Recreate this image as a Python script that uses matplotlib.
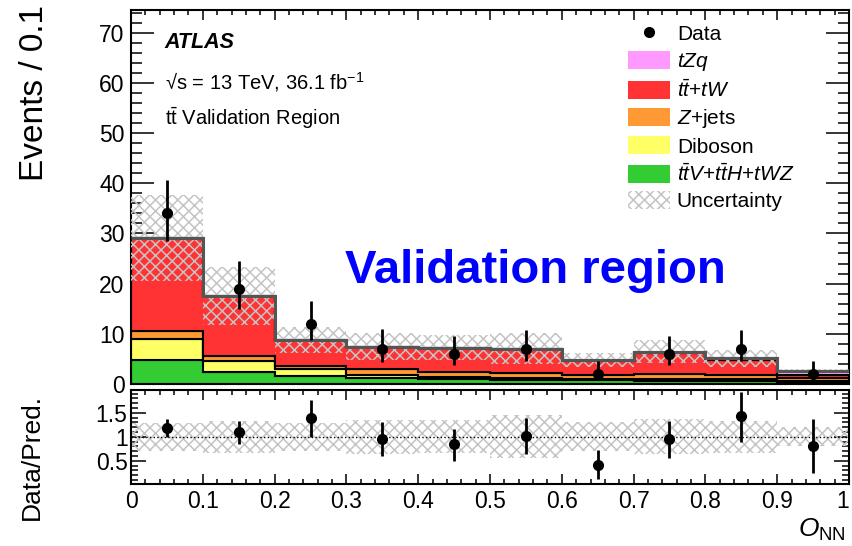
import numpy
from matplotlib import pyplot
from matplotlib.lines import Line2D
from matplotlib.patches import Patch
from matplotlib.ticker import MultipleLocator, FixedLocator, FixedFormatter

pyplot.rcParams['font.family'] = ['Liberation Sans', 'DejaVu Sans']
pyplot.rcParams['mathtext.fontset'] = 'custom'
pyplot.rcParams['mathtext.rm'] = 'Liberation Sans'
pyplot.rcParams['mathtext.it'] = 'Liberation Sans:italic'
pyplot.rcParams['mathtext.bf'] = 'Liberation Sans:bold'
pyplot.rcParams['hatch.linewidth'] = 1.1

# O_NN binning
bin_edges = [0.0, 0.1, 0.2, 0.3, 0.4, 0.5, 0.6, 0.7, 0.8, 0.9, 1.0]
bin_centers = [0.05, 0.15, 0.25, 0.35, 0.45, 0.55, 0.65, 0.75, 0.85, 0.95]
tick_labels = ['0', '0.1', '0.2', '0.3', '0.4', '0.5', '0.6', '0.7', '0.8',
               '0.9', '1']

# expected events per bin (stack order, bottom to top)
ttv = [4.7, 2.3, 1.5, 1.25, 0.9, 0.8, 0.7, 0.5, 0.5, 0.45]
diboson = [4.2, 2.2, 1.4, 0.45, 0.5, 0.4, 0.3, 0.5, 0.4, 0.15]
zjets = [1.7, 1.0, 0.7, 1.2, 1.05, 0.9, 0.8, 1.0, 0.9, 0.5]
ttbar = [18.4, 12.0, 5.1, 4.45, 4.7, 4.8, 2.85, 4.25, 3.0, 0.65]
tzq = [0.1, 0.1, 0.1, 0.1, 0.1, 0.1, 0.15, 0.2, 0.3, 0.75]
# total uncertainty (absolute)
uncertainty = [8.6, 5.8, 2.6, 2.65, 2.5, 3.1, 1.45, 2.35, 1.7, 0.5]

# data with asymmetric errors
data = [34, 19, 12, 7, 6, 7, 2, 6, 7, 2]
data_hi = [40.7, 24.5, 16.6, 10.9, 9.65, 10.8, 4.65, 9.65, 10.8, 4.65]
data_lo = [28.4, 14.9, 8.8, 4.45, 3.8, 4.6, 0.7, 3.8, 4.6, 0.7]

# data / prediction
ratio = [1.175, 1.09, 1.38, 0.95, 0.85, 1.02, 0.42, 0.95, 1.43, 0.81]
ratio_hi = [1.36, 1.32, 1.76, 1.31, 1.17, 1.40, 0.72, 1.33, 1.94, 1.36]
ratio_lo = [0.99, 0.85, 0.99, 0.60, 0.50, 0.64, 0.12, 0.56, 0.88, 0.24]

fig = pyplot.figure(figsize=(8.52, 5.46), dpi=100)
ax = fig.add_axes([131/852, 1-384/546, 718/852, 374/546])
rax = fig.add_axes([131/852, 1-484/546, 718/852, 94/546])

edges = numpy.array(bin_edges)
stack = [(ttv, '#33cc33'), (diboson, '#ffff66'), (zjets, '#ff9933'),
         (ttbar, '#ff3333'), (tzq, '#ff99ff')]
bottom = numpy.zeros(len(bin_centers))
for values, color in stack:
  top = bottom + numpy.array(values)
  ax.stairs(top, edges, baseline=bottom, fill=True, facecolor=color,
            edgecolor='black', linewidth=1.5, zorder=2)
  bottom = top
total = bottom
unc = numpy.array(uncertainty)

ax.stairs(total+unc, edges, baseline=total-unc, fill=True, facecolor='none',
          hatch='xxx', edgecolor='#c4c4c4', linewidth=0, zorder=3)
ax.stairs(total, edges, baseline=None, color='#555555', linewidth=2.2,
          zorder=4)

data = numpy.array(data, dtype=float)
ax.errorbar(bin_centers, data,
            yerr=[data-numpy.array(data_lo), numpy.array(data_hi)-data],
            fmt='o', color='black', markersize=7, elinewidth=2, capsize=0,
            zorder=6)

ax.set_xlim(0.0, 1.0)
ax.set_ylim(0.0, 74.5)
ax.yaxis.set_major_locator(MultipleLocator(10))
ax.yaxis.set_minor_locator(MultipleLocator(2))
ax.xaxis.set_major_locator(MultipleLocator(0.1))
ax.xaxis.set_minor_locator(MultipleLocator(0.02))
ax.tick_params(which='both', direction='in', top=True, right=True,
               labelbottom=False, labelsize=16.5, width=1.1)
ax.tick_params(axis='y', which='major', length=16.5, pad=4.5)
ax.tick_params(axis='y', which='minor', length=8)
ax.tick_params(axis='x', which='major', length=7)
ax.tick_params(axis='x', which='minor', length=3.5)
for spine in ax.spines.values():
  spine.set_linewidth(1.5)

ax.text(0.047, 0.912, 'ATLAS', transform=ax.transAxes, fontsize=15.5,
        fontweight='bold', fontstyle='italic', va='center')
ax.text(0.047, 0.807, '\u221As = 13 TeV, 36.1 fb$^{-1}$', transform=ax.transAxes,
        fontsize=14.5, va='center')
ax.text(0.047, 0.711, r'$\mathrm{t\bar{t}}$ Validation Region',
        transform=ax.transAxes, fontsize=14.5, va='center')
ax.text(0.5627, 0.27, 'Validation region', transform=ax.transAxes,
        fontsize=34, fontweight='bold', color='#0000ff', ha='center',
        va='baseline')

handles = [
  Line2D([], [], marker='o', color='black', linestyle='none', markersize=7),
  Patch(facecolor='#ff99ff', edgecolor='none'),
  Patch(facecolor='#ff3333', edgecolor='none'),
  Patch(facecolor='#ff9933', edgecolor='none'),
  Patch(facecolor='#ffff66', edgecolor='none'),
  Patch(facecolor='#33cc33', edgecolor='none'),
  Patch(facecolor='none', edgecolor='#c4c4c4', hatch='xxx', linewidth=0),
]
labels = ['Data', '$tZq$', r'$t\bar{t}$+$tW$', '$Z$+jets', 'Diboson',
          r'$t\bar{t}V$+$t\bar{t}H$+$tWZ$', 'Uncertainty']
ax.legend(handles, labels, loc='upper left', bbox_to_anchor=(0.692, 0.962),
          frameon=False, fontsize=15, borderpad=0, borderaxespad=0,
          handlelength=2.0, handleheight=0.95, handletextpad=0.35,
          labelspacing=0.3)

# ratio panel
rel = unc / total
rax.stairs(1+rel, edges, baseline=1-rel, fill=True, facecolor='none',
           hatch='xxx', edgecolor='#c4c4c4', linewidth=0, zorder=2)
rax.axhline(1.0, color='black', linestyle=':', linewidth=1, zorder=3)
ratio = numpy.array(ratio)
rax.errorbar(bin_centers, ratio,
             yerr=[ratio-numpy.array(ratio_lo), numpy.array(ratio_hi)-ratio],
             fmt='o', color='black', markersize=7, elinewidth=2, capsize=0,
             zorder=6)
rax.set_xlim(0.0, 1.0)
rax.set_ylim(0.015, 1.973)
rax.yaxis.set_major_locator(FixedLocator([0.5, 1.0, 1.5]))
rax.yaxis.set_major_formatter(FixedFormatter(['0.5', '1', '1.5']))
rax.yaxis.set_minor_locator(MultipleLocator(0.1))
rax.xaxis.set_major_locator(FixedLocator(bin_edges))
rax.xaxis.set_major_formatter(FixedFormatter(tick_labels))
rax.xaxis.set_minor_locator(MultipleLocator(0.02))
rax.tick_params(which='both', direction='in', top=True, right=True,
                labelsize=16.5, width=1.1)
rax.tick_params(axis='y', which='major', length=11, pad=2.5)
rax.tick_params(axis='y', which='minor', length=5)
rax.tick_params(axis='x', which='major', length=7, pad=4)
rax.tick_params(axis='x', which='minor', length=3.5)
for spine in rax.spines.values():
  spine.set_linewidth(1.5)

fig.text(35/852, 1-5/546, 'Events / 0.1', rotation=90, fontsize=24,
         ha='center', va='top')
fig.text(32/852, 1-457/546, 'Data/Pred.', rotation=90, fontsize=19,
         ha='center', va='center')
fig.text(846/852, 1-537/546, r'$O_{\mathrm{NN}}$', fontsize=19, ha='right',
         va='baseline')

# keep the last x label inside the figure, as in the original
fig.canvas.draw()
rax.get_xticklabels()[-1].set_horizontalalignment('right')

pyplot.savefig('out.png', dpi=100)
